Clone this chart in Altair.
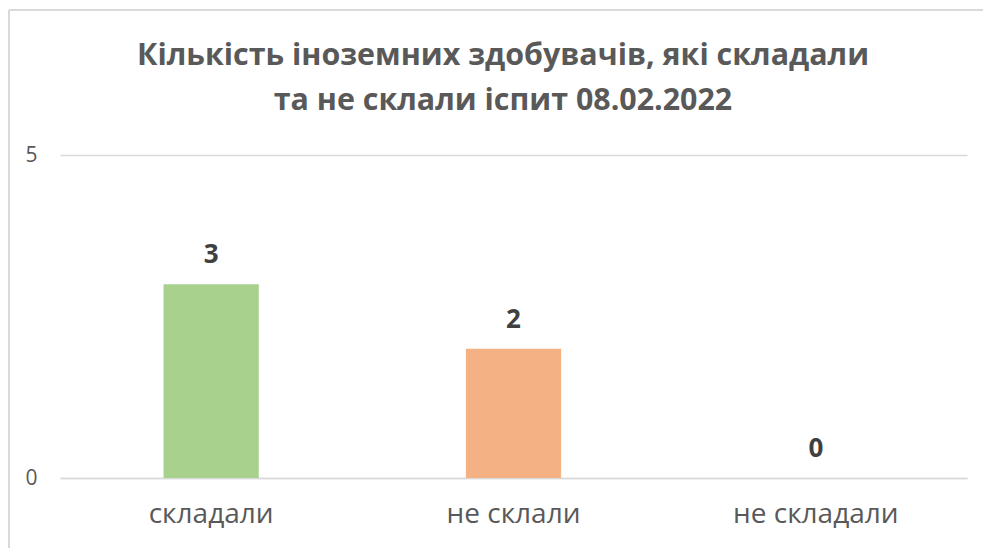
import altair as alt
import pandas as pd

categories = ["складали", "не склали", "не складали"]
values = [3, 2, 0]
colors = ["#A9D18E", "#F4B183", "#9DC3E6"]
title_lines = ["Кількість іноземних здобувачів, які складали", "та не склали іспит 08.02.2022"]

df = pd.DataFrame({"cat": categories, "val": values, "color": colors})
tdf = pd.DataFrame({"line": title_lines, "row": [0, 1]})

FONT = "Open Sans"
GRAY = "#595959"

x_enc = alt.X("cat:N", sort=categories, title=None,
              scale=alt.Scale(paddingInner=0.685, paddingOuter=0.3425),
              axis=alt.Axis(labelFontSize=28, labelColor=GRAY, labelFont=FONT,
                            labelPadding=22, ticks=False, domain=True,
                            domainColor="#d9d9d9", domainWidth=1.5, labelAngle=0))
y_enc = alt.Y("val:Q", title=None,
              scale=alt.Scale(domain=[0, 5]),
              axis=alt.Axis(values=[0, 5], format="d", labelFontSize=21, labelColor=GRAY,
                            labelFont=FONT, labelPadding=23, ticks=False, domain=False,
                            gridColor="#d9d9d9", gridWidth=1.5))

bars = alt.Chart(df).mark_bar().encode(
    x=x_enc, y=y_enc,
    color=alt.Color("color:N", scale=None),
)

labels = alt.Chart(df).mark_text(
    baseline="bottom", dy=-16, fontSize=26, fontWeight="bold", font=FONT, color="#404040"
).encode(x=alt.X("cat:N", sort=categories), y="val:Q", text="val:Q")

title1 = alt.Chart(tdf.iloc[[0]]).mark_text(
    font=FONT, fontSize=30.4, fontWeight="bold", color=GRAY, align="center", baseline="alphabetic"
).encode(x=alt.value(443), y=alt.value(-90), text="line:N")
title2 = alt.Chart(tdf.iloc[[1]]).mark_text(
    font=FONT, fontSize=30.4, fontWeight="bold", color=GRAY, align="center", baseline="alphabetic"
).encode(x=alt.value(443), y=alt.value(-45), text="line:N")

frame_left = alt.Chart(df).mark_rule(color="#d9d9d9", strokeWidth=1.5).encode(
    x=alt.value(-51), y=alt.value(-145), y2=alt.value(400)
)
frame_top = alt.Chart(df).mark_rule(color="#d9d9d9", strokeWidth=1.5).encode(
    x=alt.value(-51), x2=alt.value(1000), y=alt.value(-145)
)

chart = alt.layer(frame_left, frame_top, bars, labels, title1, title2).properties(
    width=907, height=323,
    autosize=alt.AutoSizeParams(type="none"),
    padding={"left": 60, "top": 155, "right": 16, "bottom": 70},
).configure(background="white").configure_view(stroke=None, strokeWidth=0)

chart.save("out.html", embed_options={"renderer": "svg", "actions": False})
